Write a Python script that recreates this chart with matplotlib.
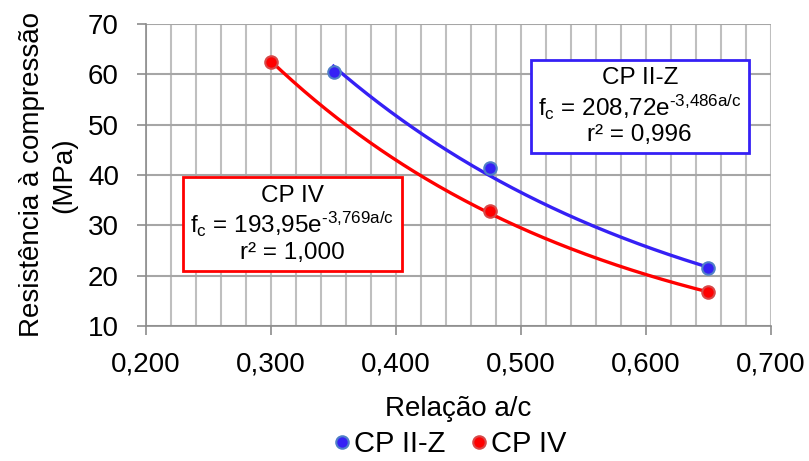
import numpy as np
import matplotlib.pyplot as plt
from matplotlib.ticker import MultipleLocator, FuncFormatter

plt.rcParams['font.family'] = ['Liberation Sans', 'DejaVu Sans']
plt.rcParams['mathtext.fontset'] = 'custom'
plt.rcParams['mathtext.rm'] = 'Liberation Sans'
plt.rcParams['mathtext.it'] = 'Liberation Sans'
plt.rcParams['mathtext.bf'] = 'Liberation Sans'

# ensaios de compressão
ac_cp2z = [0.350, 0.475, 0.650]
fc_cp2z = [60.5, 41.3, 21.5]
ac_cp4 = [0.300, 0.475, 0.650]
fc_cp4 = [62.5, 32.8, 16.8]

# ajuste exponencial fc = a * exp(b * a/c), r²
fit_cp2z = (208.72, -3.486, 0.996)
fit_cp4 = (193.95, -3.769, 1.000)

blue = '#3520F5'
red = '#FF0000'


def br(v, nd):
    return f'{v:.{nd}f}'.replace('.', ',')


def eq_text(name, fit):
    return (f'{name}\n'
            f'f$_\\mathrm{{c}}$ = {br(fit[0], 2)}e$^{{\\text{{{br(fit[1], 3)}a/c}}}}$\n'
            f'r² = {br(fit[2], 3)}')


fig = plt.figure(figsize=(8.09, 4.61), dpi=100)
ax = fig.add_axes([0.1805, 0.293, 0.7725, 0.655])

ax.set_xlim(0.2, 0.7)
ax.set_ylim(10, 70)
ax.xaxis.set_major_locator(MultipleLocator(0.1))
ax.xaxis.set_minor_locator(MultipleLocator(0.02))
ax.yaxis.set_major_locator(MultipleLocator(10))
ax.xaxis.set_major_formatter(FuncFormatter(lambda v, p: br(v, 3)))

ax.grid(axis='x', which='both', color='#BFBFBF', lw=1.5)
ax.grid(axis='y', which='major', color='#A6A6A6', lw=1.5)
ax.set_axisbelow(True)
ax.tick_params(axis='x', which='minor', length=0)
ax.tick_params(which='major', length=6.5, width=1.2, color='#8C8C8C',
               labelsize=20)
ax.tick_params(axis='y', pad=13)
ax.tick_params(axis='x', pad=12)
for s in ['top', 'right']:
    ax.spines[s].set_visible(False)
for s in ['left', 'bottom']:
    ax.spines[s].set_color('#8C8C8C')
    ax.spines[s].set_linewidth(1.2)

for xs, ys, fit, col, edge, name in [
        (ac_cp2z, fc_cp2z, fit_cp2z, blue, '#4F7FC8', 'CP II-Z'),
        (ac_cp4, fc_cp4, fit_cp4, red, '#D84848', 'CP IV')]:
    xx = np.linspace(xs[0], xs[-1], 200)
    ax.plot(xx, fit[0] * np.exp(fit[1] * xx), color=col, lw=2.4, zorder=3)
    ax.plot(xs, ys, 'o', ms=9, color=col, mec=edge, mew=1.5, zorder=4,
            label=name)

eq_kw = dict(ha='center', va='center', fontsize=17.5, linespacing=1.15,
             zorder=5)
ax.text(0.595, 53.6, eq_text('CP II-Z', fit_cp2z),
        bbox=dict(boxstyle='square,pad=0.3', fc='white', ec=blue, lw=2),
        **eq_kw)
ax.text(0.317, 30.2, eq_text('CP IV', fit_cp4),
        bbox=dict(boxstyle='square,pad=0.3', fc='white', ec=red, lw=2),
        **eq_kw)

ax.set_xlabel('Relação a/c', fontsize=20, labelpad=13)
ax.set_ylabel('Resistência à compressão\n(MPa)', fontsize=20,
              linespacing=1.3, labelpad=8)

fig.legend(loc='center', bbox_to_anchor=(0.555, 0.036), ncol=2,
           frameon=False, fontsize=21, handletextpad=0.05,
           columnspacing=0.8, handlelength=0.7, borderaxespad=0,
           borderpad=0)

fig.savefig('out.png', dpi=100)
